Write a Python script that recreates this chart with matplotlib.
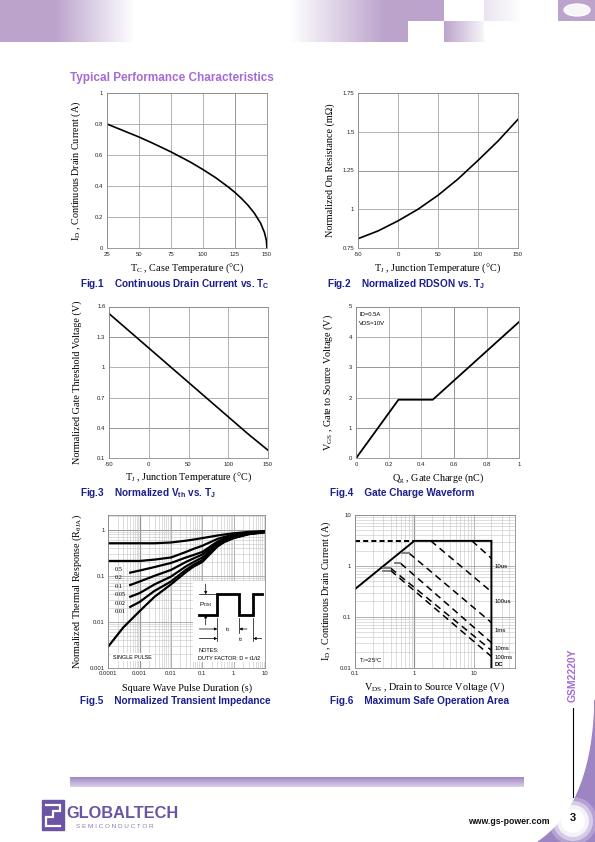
import numpy as np
import matplotlib
matplotlib.use("Agg")
import matplotlib.pyplot as plt
from matplotlib.patches import Rectangle, Polygon, Ellipse, Circle
from matplotlib.ticker import FixedLocator, NullFormatter, LogLocator

plt.rcParams['font.family'] = ['Liberation Sans', 'DejaVu Sans']
plt.rcParams['mathtext.fontset'] = 'custom'
plt.rcParams['mathtext.rm'] = 'Liberation Serif'
plt.rcParams['mathtext.it'] = 'Liberation Serif:italic'
plt.rcParams['mathtext.bf'] = 'Liberation Serif:bold'
plt.rcParams['mathtext.sf'] = 'Liberation Sans:bold'

# ---------------- data ----------------
fig1_tc = [25, 50, 60, 75, 90, 100, 110, 120, 125, 130, 135, 140, 145, 148, 149.5, 150]
fig1_id = [0.80, 0.716, 0.679, 0.62, 0.555, 0.506, 0.453, 0.392, 0.358, 0.32, 0.277,
           0.226, 0.16, 0.10, 0.05, 0.0]
fig1_xticks = [25, 50, 75, 100, 125, 150]
fig1_yticks = [0, 0.2, 0.4, 0.6, 0.8, 1]

fig2_tj = [-50, -25, 0, 25, 50, 75, 100, 125, 150]
fig2_r = [0.81, 0.86, 0.925, 1.0, 1.09, 1.195, 1.315, 1.44, 1.58]
fig2_xticks = [-50, 0, 50, 100, 150]
fig2_yticks = [0.75, 1, 1.25, 1.5, 1.75]

fig3_tj = [-50, -25, 0, 25, 50, 75, 100, 125, 150]
fig3_vth = [1.53, 1.36, 1.19, 1.02, 0.85, 0.68, 0.51, 0.34, 0.18]
fig3_xticks = [-50, 0, 50, 100, 150]
fig3_yticks = [0.1, 0.4, 0.7, 1, 1.3, 1.6]

fig4_qg = [0, 0.26, 0.47, 1.0]
fig4_vgs = [0, 1.93, 1.93, 4.5]
fig4_xticks = [0, 0.2, 0.4, 0.6, 0.8, 1]
fig4_yticks = [0, 1, 2, 3, 4, 5]

fig5_t_full = [1e-4, 3e-4, 1e-3, 3e-3, 1e-2, 3e-2, 5e-2, 0.1, 0.3, 0.5, 1, 3, 10]
fig5_t_part = [5e-4, 1e-3, 3e-3, 1e-2, 3e-2, 5e-2, 0.1, 0.3, 0.5, 1, 3, 10]
fig5_d050 = [0.51, 0.51, 0.51, 0.51, 0.53, 0.58, 0.61, 0.66, 0.75, 0.79, 0.84, 0.90, 0.94]
fig5_d020 = [0.21, 0.21, 0.21, 0.225, 0.25, 0.33, 0.38, 0.45, 0.63, 0.70, 0.78, 0.86, 0.92]
fig5_d010 = [0.117, 0.13, 0.155, 0.19, 0.25, 0.28, 0.33, 0.55, 0.64, 0.74, 0.84, 0.91]
fig5_d005 = [0.063, 0.075, 0.10, 0.134, 0.20, 0.235, 0.29, 0.51, 0.61, 0.71, 0.83, 0.90]
fig5_d002 = [0.035, 0.042, 0.065, 0.096, 0.16, 0.195, 0.25, 0.47, 0.58, 0.69, 0.82, 0.90]
fig5_d001 = [0.021, 0.027, 0.047, 0.075, 0.135, 0.17, 0.22, 0.45, 0.56, 0.67, 0.81, 0.89]
fig5_single = [0.0029, 0.0075, 0.017, 0.035, 0.065, 0.12, 0.155, 0.20, 0.43, 0.54, 0.66, 0.80, 0.89]
fig5_labels = ['0.5', '0.2', '0.1', '0.05', '0.02', '0.01']
fig5_xticks = [1e-4, 1e-3, 1e-2, 1e-1, 1, 10]
fig5_xlabels = ['0.0001', '0.001', '0.01', '0.1', '1', '10']
fig5_yticks = [1e-3, 1e-2, 1e-1, 1]
fig5_ylabels = ['0.001', '0.01', '0.1', '1']

fig6_limit_v = [0.1, 1, 20, 20]
fig6_limit_i = [0.35, 3.1, 3.1, 0.01]
fig6_top_v = [0.1, 1]
fig6_top_i = [3.1, 3.1]
fig6_names = ['10us', '100us', '1ms', '10ms', '100ms', 'DC']
fig6_v0 = [9.4, 1.9, 0.82, 0.59, 0.40, 0.40]
fig6_i0 = [3.1, 3.1, 1.77, 1.12, 0.90, 0.81]
fig6_v1 = [20, 20, 20, 20, 20, 20]
fig6_i1 = [1.41, 0.31, 0.077, 0.031, 0.022, 0.0166]
fig6_cap_v0 = [0.62, 0.47, 0.30, 0.30]
fig6_cap_v1 = [0.80, 0.57, 0.39, 0.39]
fig6_cap_i = [1.77, 1.12, 0.90, 0.81]
fig6_xticks = [0.1, 1, 10]
fig6_xlabels = ['0.1', '1', '10']
fig6_yticks = [0.01, 0.1, 1, 10]
fig6_ylabels = ['0.01', '0.1', '1', '10']

# ---------------- figure ----------------
W, H = 595, 842
fig = plt.figure(figsize=(W / 100, H / 100), dpi=100)
fig.patch.set_facecolor('white')

SERIF = 'Liberation Serif'
NAVY = '#1b1f8e'
LILAC = '#a56bd4'
TICK_FS = 4.3
LAB_FS = 7.3
CAP_FS = 7.2


def mkax(l, t, r, b, z=1):
    return fig.add_axes([l / W, 1 - b / H, (r - l) / W, (b - t) / H], zorder=z)


def ptxt(x, y, s, **kw):
    return fig.text(x / W, 1 - y / H, s, **kw)


def style(ax, log=False):
    for sp in ax.spines.values():
        sp.set_color('#8a8a8a')
        sp.set_linewidth(0.6)
    ax.tick_params(which='both', length=0, labelsize=TICK_FS, pad=2.6, colors='#222222')
    ax.set_axisbelow(True)
    ax.grid(True, which='major', color='#a5a5a5', lw=0.6)
    if log:
        ax.grid(True, which='minor', color='#c4c4c4', lw=0.4)


def labels(ax, xl, yl, xc, yc):
    ax.set_xlabel(xl, fontfamily=SERIF, fontsize=LAB_FS, va='center')
    ax.set_ylabel(yl, fontfamily=SERIF, fontsize=LAB_FS, va='center')
    ax.xaxis.set_label_coords(0.5, xc)
    ax.yaxis.set_label_coords(yc, 0.5)


def caption(x, y, s):
    ptxt(x, y, s, fontsize=CAP_FS, fontweight='bold', color=NAVY, va='center', ha='left')


# ----- background decorations -----
bg = fig.add_axes([0, 0, 1, 1], zorder=-10)
bg.axis('off')
PURPLE = np.array([0.735, 0.64, 0.80])


def hgrad(x0, x1, y0, y1, a0, a1, color=PURPLE):
    arr = np.zeros((1, 256, 4))
    arr[..., :3] = color
    arr[0, :, 3] = np.linspace(a0, a1, 256)
    bg.imshow(arr, extent=[x0, x1, y1, y0], aspect='auto', interpolation='bilinear', zorder=1)


def vgrad(x0, x1, y0, y1, c0, c1):
    arr = np.ones((64, 1, 4))
    t = np.linspace(0, 1, 64)[:, None]
    arr[:, 0, :3] = (1 - t) * np.array(c0) + t * np.array(c1)
    bg.imshow(arr, extent=[x0, x1, y1, y0], aspect='auto', interpolation='bilinear', zorder=1)


hgrad(0, 55, 0, 42, 1, 1)
hgrad(55, 135, 0, 42, 1, 0)
hgrad(290, 385, 0, 42, 0, 1)
hgrad(385, 408, 0, 42, 1, 1)
hgrad(408, 444, 0, 21, 1, 1)
hgrad(444, 484, 21, 42, 1, 0.1)
hgrad(484, 522, 0, 21, 0.3, 0)
hgrad(558, 595, 0, 21, 1, 1)
bg.add_patch(Ellipse((577, 10), 26, 12, color='white', alpha=0.9, zorder=2))

# footer bar
vgrad(70, 524, 777, 787, [0.62, 0.53, 0.76], [0.86, 0.82, 0.92])

# bottom-right swoosh
tt = np.linspace(0, 1, 60)
P0, P1, P2 = np.array([595, 700]), np.array([593, 805]), np.array([538, 842])
curve = ((1 - tt)[:, None] ** 2) * P0 + (2 * (1 - tt) * tt)[:, None] * P1 + (tt[:, None] ** 2) * P2
poly = np.vstack([curve, [[595, 842]]])
bg.add_patch(Polygon(poly, closed=True, color='#9d84c3', zorder=2))
for r, a in [(24, 0.25), (20, 0.45), (16, 0.75), (12, 1.0)]:
    bg.add_patch(Circle((573, 821), r, color='white', alpha=a, zorder=3, lw=0))
bg.plot([573, 573], [708, 797], color='black', lw=0.8, zorder=4)

# logo
bg.add_patch(Rectangle((42, 800), 22, 30, color='#6b54a4', zorder=2))
bg.plot([46, 60, 60, 53, 53, 46, 46, 60], [805, 805, 811, 811, 817, 817, 826, 826],
        color='white', lw=1.6, zorder=3, solid_joinstyle='miter')
bg.set_xlim(0, W)
bg.set_ylim(H, 0)

ptxt(66, 813, 'GLOBALTECH', fontsize=11.8, fontweight='bold', color='#6b54a4', va='center', ha='left')
ptxt(76, 827, 'S E M I C O N D U C T O R', fontsize=4.6, color='#8b7db3', va='center', ha='left')
ptxt(468, 822, 'www.gs-power.com', fontsize=6.3, fontweight='bold', color='#111111', va='center')
ptxt(573, 818, '3', fontsize=8, fontweight='bold', color='#111111', va='center', ha='center')
ptxt(573, 675, 'GSM2220Y', fontsize=7.5, fontweight='bold', color=LILAC, va='center', ha='center',
     rotation=90)

ptxt(70, 78, 'Typical Performance Characteristics', fontsize=8.5, fontweight='bold', color=LILAC,
     va='center', ha='left')

# ----- Fig.1 -----
ax1 = mkax(107, 93, 267, 248)
style(ax1)
ax1.plot(fig1_tc, fig1_id, color='black', lw=1.2)
ax1.set_xlim(25, 150)
ax1.set_ylim(0, 1)
ax1.set_xticks(fig1_xticks)
ax1.set_xticklabels([str(v) for v in fig1_xticks])
ax1.set_yticks(fig1_yticks)
ax1.set_yticklabels(['0', '0.2', '0.4', '0.6', '0.8', '1'])
ax1.axvline(125, color='#555555', lw=0.7, zorder=0.5)
labels(ax1, r'T$_{\mathrm{C}}$ , Case Temperature (°C)', r'I$_{\mathrm{D}}$ , Continuous Drain Current (A)',
       -0.13, -0.19)
caption(80, 284, r'Fig.1    Continuous Drain Current vs. T$_{\mathsf{C}}$')

# ----- Fig.2 -----
ax2 = mkax(358, 93, 518, 248)
style(ax2)
ax2.plot(fig2_tj, fig2_r, color='black', lw=1.2)
ax2.set_xlim(-50, 150)
ax2.set_ylim(0.75, 1.75)
ax2.set_xticks(fig2_xticks)
ax2.set_xticklabels([str(v) for v in fig2_xticks])
ax2.set_yticks(fig2_yticks)
ax2.set_yticklabels(['0.75', '1', '1.25', '1.5', '1.75'])
ax2.axhline(1.25, color='#555555', lw=0.7, zorder=0.5)
labels(ax2, r'T$_{\mathrm{J}}$ , Junction Temperature (°C)', 'Normalized On Resistance (mΩ)', -0.133, -0.175)
caption(327, 284, r'Fig.2    Normalized RDSON vs. T$_{\mathsf{J}}$')

# ----- Fig.3 -----
ax3 = mkax(109, 306.5, 268, 458.3)
style(ax3)
ax3.plot(fig3_tj, fig3_vth, color='black', lw=1.2)
ax3.set_xlim(-50, 150)
ax3.set_ylim(0.1, 1.6)
ax3.set_xticks(fig3_xticks)
ax3.set_xticklabels([str(v) for v in fig3_xticks])
ax3.set_yticks(fig3_yticks)
ax3.set_yticklabels(['0.1', '0.4', '0.7', '1', '1.3', '1.6'])
for yv in (0.4, 1.3):
    ax3.axhline(yv, color='#555555', lw=0.7, zorder=0.5)
labels(ax3, r'T$_{\mathrm{J}}$ , Junction Temperature (°C)', 'Normalized Gate Threshold Voltage (V)',
       -0.128, -0.203)
caption(80, 493, r'Fig.3    Normalized V$_{\mathsf{th}}$ vs. T$_{\mathsf{J}}$')

# ----- Fig.4 -----
ax4 = mkax(356, 306.5, 519.3, 458.3)
style(ax4)
ax4.plot(fig4_qg, fig4_vgs, color='black', lw=1.3)
ax4.set_xlim(0, 1)
ax4.set_ylim(0, 5)
ax4.set_xticks(fig4_xticks)
ax4.set_xticklabels(['0', '0.2', '0.4', '0.6', '0.8', '1'])
ax4.set_yticks(fig4_yticks)
ax4.set_yticklabels([str(v) for v in fig4_yticks])
ax4.axvline(0.6, color='#555555', lw=0.7, zorder=0.5)
for yv in (1, 3):
    ax4.axhline(yv, color='#555555', lw=0.7, zorder=0.5)
ax4.text(0.02, 0.95, 'ID=0.5A', transform=ax4.transAxes, fontsize=4.2, va='center', ha='left')
ax4.text(0.02, 0.89, 'VDS=10V', transform=ax4.transAxes, fontsize=4.2, va='center', ha='left')
labels(ax4, r'Q$_{\mathrm{g}}$ , Gate Charge (nC)', r'V$_{\mathrm{GS}}$ , Gate to Source Voltage (V)',
       -0.128, -0.17)
caption(330, 493, 'Fig.4    Gate Charge Waveform')

# ----- Fig.5 -----
ax5 = mkax(108.3, 515, 265, 667.7)
ax5.set_xscale('log')
ax5.set_yscale('log')
style(ax5, log=True)
for ys in (fig5_d050, fig5_d020):
    ax5.plot(fig5_t_full, ys, color='black', lw=1.6)
for ys in (fig5_d010, fig5_d005, fig5_d002, fig5_d001):
    ax5.plot(fig5_t_part, ys, color='black', lw=1.6)
ax5.plot(fig5_t_full, fig5_single, color='black', lw=1.6)
ax5.set_xlim(1e-4, 10)
ax5.set_ylim(1e-3, 2.1)
ax5.xaxis.set_major_locator(FixedLocator(fig5_xticks))
ax5.set_xticklabels(fig5_xlabels)
ax5.yaxis.set_major_locator(FixedLocator(fig5_yticks))
ax5.set_yticklabels(fig5_ylabels)
ax5.xaxis.set_minor_locator(LogLocator(base=10, subs=np.arange(2, 10), numticks=20))
ax5.yaxis.set_minor_locator(LogLocator(base=10, subs=np.arange(2, 10), numticks=20))
ax5.xaxis.set_minor_formatter(NullFormatter())
ax5.yaxis.set_minor_formatter(NullFormatter())
ax5.axvline(1e-3, color='#333333', lw=0.8, zorder=0.5)
ax5.axhline(1, color='#555555', lw=0.7, zorder=0.5)
for k, lab in enumerate(fig5_labels):
    ax5.text(0.043, 0.644 - k * 0.0555, lab, transform=ax5.transAxes, fontsize=4.6,
             fontfamily=SERIF, va='center', ha='left')
ax5.text(0.03, 0.07, 'SINGLE PULSE', transform=ax5.transAxes, fontsize=3.9, va='center', ha='left',
         bbox=dict(facecolor='white', edgecolor='none', pad=1.2))
labels(ax5, 'Square Wave Pulse Duration (s)', r'Normalized Thermal Response (R$_{\mathrm{θJA}}$)',
       -0.131, -0.2)
caption(80, 701, 'Fig.5    Normalized Transient Impedance')

# inset diagram of Fig.5
ins = mkax(193, 581, 265, 662, z=3)
ins.set_xlim(193, 265)
ins.set_ylim(662, 581)
ins.set_xticks([])
ins.set_yticks([])
for sp in ins.spines.values():
    sp.set_visible(False)
ins.set_facecolor('white')
ins.plot([199.3, 217.3, 217.3, 239.3, 239.3, 253.3, 253.3, 261.7],
         [615, 615, 594.3, 594.3, 615, 615, 594.3, 594.3], color='black', lw=2.0,
         solid_joinstyle='miter')
ins.plot([199.3, 217.3], [594.3, 594.3], color='black', lw=0.5)
arrow = dict(arrowstyle='-|>', lw=0.5, color='black', mutation_scale=4, shrinkA=0, shrinkB=0)
ins.annotate('', xy=(205.7, 594.3), xytext=(205.7, 584), arrowprops=arrow)
ins.annotate('', xy=(205.7, 615), xytext=(205.7, 625), arrowprops=arrow)
ins.text(205.7, 604.5, r'P$_{\mathrm{DM}}$', fontsize=4.6, ha='center', va='center')
for xv, y1 in ((217.3, 641), (239.3, 633), (253.3, 641)):
    ins.plot([xv, xv], [618, y1], color='black', lw=0.5)
ins.annotate('', xy=(217.3, 629), xytext=(199.3, 629), arrowprops=arrow)
ins.annotate('', xy=(239.3, 629), xytext=(247, 629), arrowprops=arrow)
ins.annotate('', xy=(217.3, 638.5), xytext=(199.3, 638.5), arrowprops=arrow)
ins.annotate('', xy=(253.3, 638.5), xytext=(261.7, 638.5), arrowprops=arrow)
ins.text(228.3, 630, r't$_{1}$', fontsize=4.6, ha='center', va='center')
ins.text(240.5, 639.5, r't$_{2}$', fontsize=4.6, ha='center', va='center')
ins.text(198.3, 650.7, 'NOTES:', fontsize=4.0, ha='left', va='center')
ins.text(198.3, 658.7, 'DUTY FACTOR: D = t1/t2', fontsize=4.0, ha='left', va='center')

# ----- Fig.6 -----
ax6 = mkax(355, 515, 515, 667.7)
ax6.set_xscale('log')
ax6.set_yscale('log')
style(ax6, log=True)
ax6.plot(fig6_limit_v, fig6_limit_i, color='black', lw=1.4, solid_joinstyle='miter')
ax6.plot(fig6_top_v, fig6_top_i, color='black', lw=1.4, linestyle=(0, (2.6, 1.6)))
for v0, i0, v1, i1 in zip(fig6_v0, fig6_i0, fig6_v1, fig6_i1):
    ax6.plot([v0, v1], [i0, i1], color='black', lw=1.1, linestyle=(0, (4.5, 3)))
for v0, v1, ic in zip(fig6_cap_v0, fig6_cap_v1, fig6_cap_i):
    ax6.plot([v0, v1], [ic, ic], color='#808080', lw=1.4)
ax6.set_xlim(0.1, 50)
ax6.set_ylim(0.01, 10)
ax6.xaxis.set_major_locator(FixedLocator(fig6_xticks))
ax6.set_xticklabels(fig6_xlabels)
ax6.yaxis.set_major_locator(FixedLocator(fig6_yticks))
ax6.set_yticklabels(fig6_ylabels)
ax6.xaxis.set_minor_locator(LogLocator(base=10, subs=np.arange(2, 10), numticks=20))
ax6.yaxis.set_minor_locator(LogLocator(base=10, subs=np.arange(2, 10), numticks=20))
ax6.xaxis.set_minor_formatter(NullFormatter())
ax6.yaxis.set_minor_formatter(NullFormatter())
ax6.axvline(1, color='#333333', lw=0.8, zorder=0.5)
for name, yf in zip(fig6_names, [0.661, 0.432, 0.242, 0.127, 0.068, 0.018]):
    ax6.text(0.875, yf, name, transform=ax6.transAxes, fontsize=4.3, va='center', ha='left',
             fontweight='bold' if name == 'DC' else 'normal')
ax6.text(0.025, 0.05, 'T$_{\\mathrm{J}}$=25°C', transform=ax6.transAxes, fontsize=4.2, va='center', ha='left')
labels(ax6, r'V$_{\mathrm{DS}}$ , Drain to Source Voltage (V)', r'I$_{\mathrm{D}}$ , Continuous Drain Current (A)',
       -0.131, -0.177)
caption(330, 701, 'Fig.6    Maximum Safe Operation Area')

fig.savefig('out.png', dpi=100)
